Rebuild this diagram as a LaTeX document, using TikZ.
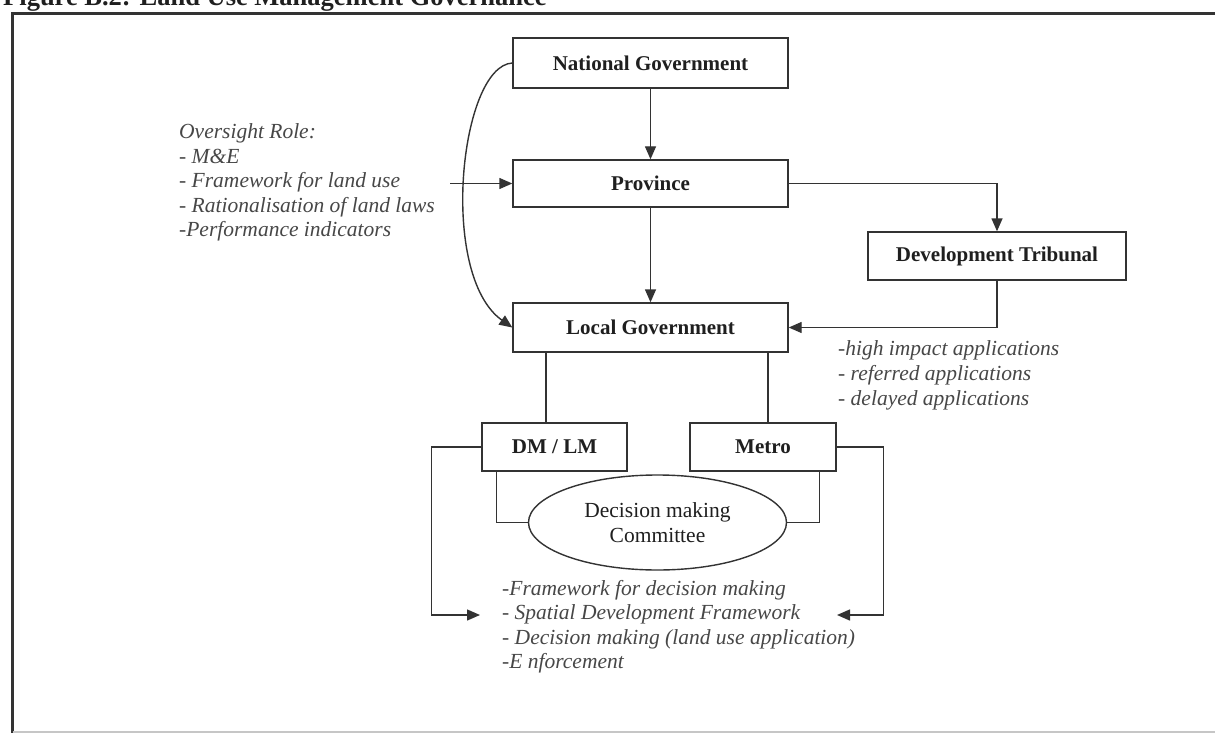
\documentclass[tikz,border=0pt]{standalone}
\usepackage{fontspec}
\setmainfont{Liberation Serif}
\usetikzlibrary{arrows.meta,shapes.geometric,calc}
\definecolor{ink}{gray}{0.2}
\definecolor{txt}{gray}{0.12}
\definecolor{txtsoft}{gray}{0.28}
\begin{document}
\begin{tikzpicture}[x=1pt,y=-1pt,
  box/.style={draw=ink, line width=1.4pt, fill=white, inner sep=0pt,
    font=\fontsize{21}{25}\selectfont\bfseries, text=txt},
  note/.style={anchor=base west, inner sep=0pt,
    font=\fontsize{21.5}{24}\selectfont\itshape, text=txtsoft},
  link/.style={draw=ink, line width=1.4pt},
  arr/.style={link, -{Triangle[length=13pt,width=11pt]}}]
\clip (0,0) rectangle (1215,733);
\fill[white] (0,0) rectangle (1215,733);

% caption line, trimmed at the top edge
\node[anchor=base west, inner sep=0pt, font=\fontsize{26.5}{30}\selectfont\bfseries, text=txt]
  (title) at (3,6) {Figure B.2: Land Use Management Governance};

% frame
\draw[ink, line width=3pt] (12.5,735) -- (12.5,13.5) -- (1216,13.5);
\draw[gray!45, line width=2pt] (12.5,731.5) -- (1216,731.5);

% boxes
\node[box, minimum width=275pt, minimum height=50pt] (ng) at (650.5,63) {National Government};
\node[box, minimum width=275pt, minimum height=47pt] (prov) at (650.5,183.5) {Province};
\node[box, minimum width=258pt, minimum height=48pt] (dt) at (997,256) {Development Tribunal};
\node[box, minimum width=275pt, minimum height=49pt] (lg) at (650.5,327.5) {Local Government};
\node[box, minimum width=145pt, minimum height=48pt] (dm) at (554.5,447) {DM / LM};
\node[box, minimum width=146pt, minimum height=48pt] (metro) at (763,447) {Metro};
\node[ellipse, draw=ink, line width=1.4pt, inner sep=0pt, minimum width=258pt, minimum height=95pt,
  align=center, font=\fontsize{21.5}{25}\selectfont, text=txt] (dmc) at (657.5,522.5)
  {Decision making\\Committee};

% side notes
\node[note] (ov0) at (179,139) {Oversight Role:};
\node[note] (ov1) at (179,163.4) {- M\&E};
\node[note] (ov2) at (179,187.8) {- Framework for land use};
\node[note] (ov3) at (179,212.2) {- Rationalisation of land laws};
\node[note] (ov4) at (179,236.6) {-Performance indicators};

\node[note] (ap1) at (838,355) {-high impact applications};
\node[note] (ap2) at (838,380) {- referred applications};
\node[note] (ap3) at (838,405) {- delayed applications};

\node[note] (fw1) at (502,595) {-Framework for decision making};
\node[note] (fw2) at (502,619.5) {- Spatial Development Framework};
\node[note] (fw3) at (502,644) {- Decision making (land use application)};
\node[note] (fw4) at (502,668.5) {-E nforcement};

% connectors
\coordinate (ovin) at (450,183.5);
\coordinate (inL) at (480,615);
\coordinate (inR) at (837,615);

\draw[arr] (ng.south) -- (prov.north);
\draw[arr] (prov.south) -- (lg.north);
\draw[arr] (ovin) -- (prov.west);
\draw[arr] (prov.east) -| (dt.north);
\draw[arr] (dt.south) |- (lg.east);
\draw[arr] (ng.west) .. controls (460,66) and (438,275) .. (lg.west);

\draw[link] ([xshift=-8.5pt]dm.north) -- ([xshift=-8.5pt]dm.north |- lg.south);
\draw[link] ([xshift=5pt]metro.north) -- ([xshift=5pt]metro.north |- lg.south);

\draw[link] ([xshift=15pt]dm.south west) |- (dmc.west);
\draw[link] ([xshift=-17pt]metro.south east) |- (dmc.east);

\draw[arr] (dm.west) -- ++(-50,0) |- (inL);
\draw[arr] (metro.east) -- ++(47,0) |- (inR);
\end{tikzpicture}
\end{document}
